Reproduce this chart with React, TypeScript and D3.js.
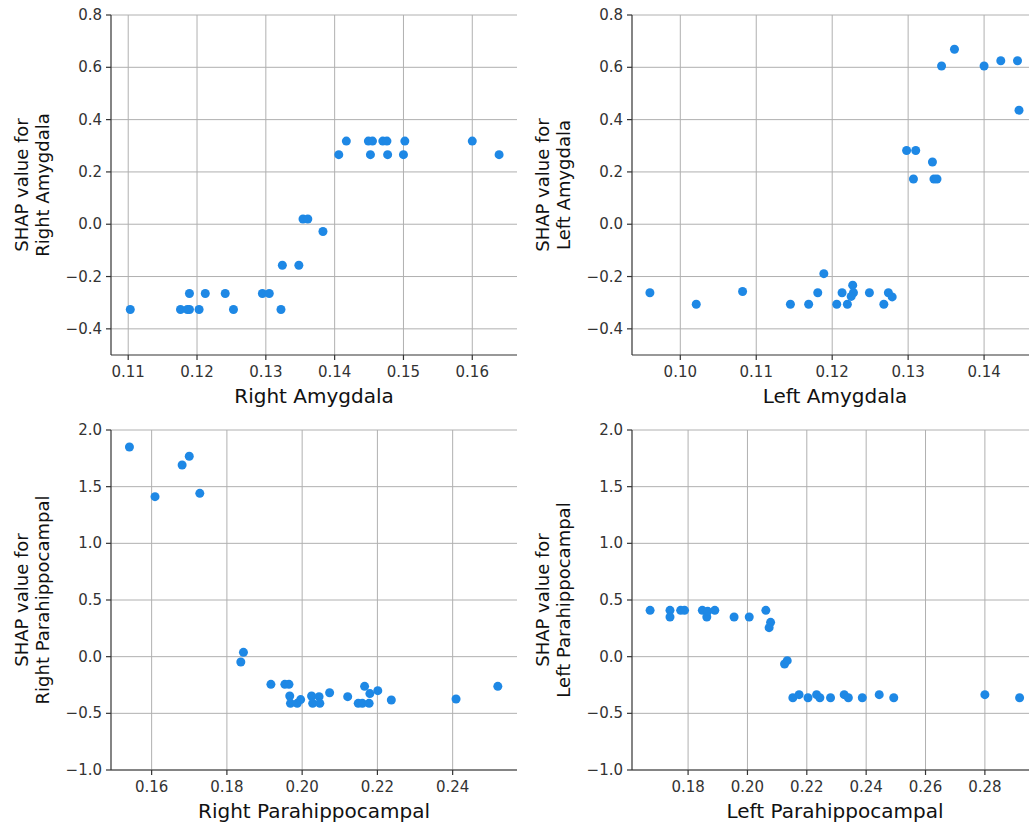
import React from "react";
import * as d3 from "d3";

// ---------- DATA ----------
const rightAmygdalaX = [0.1103, 0.1176, 0.1186, 0.1189, 0.1189, 0.1203, 0.1212, 0.1241, 0.1253, 0.1295, 0.1305, 0.1322, 0.1324, 0.1348, 0.1354, 0.1361, 0.1383, 0.1406, 0.1417, 0.1449, 0.1455, 0.1452, 0.147, 0.1476, 0.1477, 0.15, 0.1502, 0.16, 0.1639];
const rightAmygdalaShap = [-0.326, -0.326, -0.326, -0.326, -0.265, -0.326, -0.265, -0.265, -0.326, -0.265, -0.265, -0.326, -0.157, -0.157, 0.02, 0.02, -0.028, 0.266, 0.318, 0.318, 0.318, 0.266, 0.318, 0.318, 0.266, 0.266, 0.318, 0.318, 0.266];

const leftAmygdalaX = [0.096, 0.1021, 0.1082, 0.1145, 0.1169, 0.1181, 0.1189, 0.1206, 0.1213, 0.122, 0.1227, 0.1228, 0.1225, 0.1249, 0.1268, 0.1274, 0.1279, 0.1298, 0.131, 0.1307, 0.1332, 0.1334, 0.1338, 0.1344, 0.1361, 0.14, 0.1422, 0.1444, 0.1446];
const leftAmygdalaShap = [-0.262, -0.306, -0.257, -0.306, -0.306, -0.262, -0.189, -0.306, -0.262, -0.306, -0.233, -0.262, -0.276, -0.262, -0.306, -0.262, -0.278, 0.282, 0.282, 0.173, 0.238, 0.173, 0.173, 0.605, 0.669, 0.605, 0.625, 0.625, 0.436];

const rightParaX = [0.1541, 0.1609, 0.1681, 0.17, 0.1728, 0.1837, 0.1844, 0.1917, 0.1954, 0.1965, 0.1967, 0.1969, 0.1987, 0.1996, 0.2025, 0.2028, 0.2045, 0.2047, 0.2073, 0.2121, 0.2149, 0.216, 0.2166, 0.2178, 0.218, 0.2201, 0.2237, 0.2409, 0.252];
const rightParaShap = [1.85, 1.412, 1.691, 1.768, 1.441, -0.047, 0.038, -0.244, -0.244, -0.244, -0.347, -0.412, -0.412, -0.379, -0.347, -0.412, -0.353, -0.412, -0.318, -0.353, -0.412, -0.412, -0.262, -0.412, -0.326, -0.3, -0.382, -0.374, -0.262];

const leftParaX = [0.1672, 0.1739, 0.1739, 0.1775, 0.1788, 0.1848, 0.1863, 0.1866, 0.189, 0.1955, 0.2006, 0.2062, 0.2078, 0.2073, 0.2125, 0.2134, 0.2153, 0.2174, 0.2204, 0.2233, 0.2244, 0.228, 0.2326, 0.234, 0.2387, 0.2444, 0.2493, 0.28, 0.2917];
const leftParaShap = [0.409, 0.409, 0.35, 0.409, 0.409, 0.409, 0.35, 0.4, 0.409, 0.35, 0.35, 0.409, 0.303, 0.256, -0.065, -0.035, -0.362, -0.335, -0.362, -0.335, -0.362, -0.362, -0.335, -0.362, -0.362, -0.335, -0.362, -0.335, -0.362];

const xTicksRightAmygdala = [0.11, 0.12, 0.13, 0.14, 0.15, 0.16];
const xTicksLeftAmygdala = [0.1, 0.11, 0.12, 0.13, 0.14];
const xTicksRightPara = [0.16, 0.18, 0.2, 0.22, 0.24];
const xTicksLeftPara = [0.18, 0.2, 0.22, 0.24, 0.26, 0.28];
const yTicksAmygdala = [-0.4, -0.2, 0, 0.2, 0.4, 0.6, 0.8];
const yTicksPara = [-1.0, -0.5, 0, 0.5, 1.0, 1.5, 2.0];

const featureNames = ["Right Amygdala", "Left Amygdala", "Right Parahippocampal", "Left Parahippocampal"];

// ---------- LAYOUT ----------
const W = 1029;
const H = 825;
const COLS = [[111, 517], [632, 1038]];
const ROWS = [[355, 15], [770, 430]];

const panels = [
  { name: featureNames[0], xs: rightAmygdalaX, ys: rightAmygdalaShap, xDom: [0.1075, 0.1665], yDom: [-0.5, 0.8], xTicks: xTicksRightAmygdala, yTicks: yTicksAmygdala, col: 0, row: 0, xDec: 2, yDec: 1 },
  { name: featureNames[1], xs: leftAmygdalaX, ys: leftAmygdalaShap, xDom: [0.09364, 0.1471], yDom: [-0.5, 0.8], xTicks: xTicksLeftAmygdala, yTicks: yTicksAmygdala, col: 1, row: 0, xDec: 2, yDec: 1 },
  { name: featureNames[2], xs: rightParaX, ys: rightParaShap, xDom: [0.1492, 0.2571], yDom: [-1.0, 2.0], xTicks: xTicksRightPara, yTicks: yTicksPara, col: 0, row: 1, xDec: 2, yDec: 1 },
  { name: featureNames[3], xs: leftParaX, ys: leftParaShap, xDom: [0.1611, 0.2979], yDom: [-1.0, 2.0], xTicks: xTicksLeftPara, yTicks: yTicksPara, col: 1, row: 1, xDec: 2, yDec: 1 },
];

const DOT = "#1E88E5";
const GRID = "#b0b0b0";
const AXIS = "#333333";
const FONT = "'DejaVu Sans', sans-serif";

const fmt = (v: number, dec: number) => {
  const s = Math.abs(v).toFixed(dec);
  return (v < -1e-9 ? "\u2212" : "") + s;
};

function Panel({ p }: { p: (typeof panels)[number] }) {
  const [x0, x1] = COLS[p.col];
  const [y0, y1] = ROWS[p.row];
  const x = d3.scaleLinear().domain(p.xDom).range([x0, x1]);
  const y = d3.scaleLinear().domain(p.yDom).range([y0, y1]);
  const midY = (y0 + y1) / 2;
  const midX = (x0 + x1) / 2;
  return (
    <g>
      {/* grid */}
      {p.xTicks.map((t) => (
        <line key={"gx" + t} x1={x(t)} x2={x(t)} y1={y0} y2={y1} stroke={GRID} strokeWidth={1} />
      ))}
      {p.yTicks.map((t) => (
        <line key={"gy" + t} x1={x0} x2={x1} y1={y(t)} y2={y(t)} stroke={GRID} strokeWidth={1} />
      ))}
      {/* points */}
      {p.xs.map((v, i) => (
        <circle key={"pt" + i} cx={x(v)} cy={y(p.ys[i])} r={4.5} fill={DOT} />
      ))}
      {/* spines */}
      <line x1={x0} x2={x0} y1={y0} y2={y1} stroke={AXIS} strokeWidth={1.2} />
      <line x1={x0} x2={x1} y1={y0} y2={y0} stroke={AXIS} strokeWidth={1.2} />
      {/* ticks */}
      {p.xTicks.map((t) => (
        <g key={"tx" + t}>
          <line x1={x(t)} x2={x(t)} y1={y0} y2={y0 + 5} stroke={AXIS} strokeWidth={1.2} />
          <text x={x(t)} y={y0 + 22} textAnchor="middle" fontSize={15} fill={AXIS} fontFamily={FONT}>
            {fmt(t, p.xDec)}
          </text>
        </g>
      ))}
      {p.yTicks.map((t) => (
        <g key={"ty" + t}>
          <line x1={x0 - 5} x2={x0} y1={y(t)} y2={y(t)} stroke={AXIS} strokeWidth={1.2} />
          <text x={x0 - 9} y={y(t)} textAnchor="end" dominantBaseline="central" fontSize={15} fill={AXIS} fontFamily={FONT}>
            {fmt(t, p.yDec)}
          </text>
        </g>
      ))}
      {/* x label */}
      <text x={midX} y={y0 + 48} textAnchor="middle" fontSize={20} fill="#111" fontFamily={FONT}>
        {p.name}
      </text>
      {/* y label */}
      <g transform={`translate(${x0 - 90},${midY}) rotate(-90)`}>
        <text x={0} y={0} textAnchor="middle" dominantBaseline="central" fontSize={18} fill="#111" fontFamily={FONT}>
          SHAP value for
        </text>
      </g>
      <g transform={`translate(${x0 - 69},${midY}) rotate(-90)`}>
        <text x={0} y={0} textAnchor="middle" dominantBaseline="central" fontSize={18} fill="#111" fontFamily={FONT}>
          {p.name}
        </text>
      </g>
    </g>
  );
}

export default function App() {
  return (
    <svg
      width={W}
      height={H}
      viewBox={`0 0 ${W} ${H}`}
      style={{ position: "absolute", left: 0, top: 0, background: "#fff", overflow: "hidden" }}
    >
      <rect x={0} y={0} width={W} height={H} fill="#fff" />
      {panels.map((p, i) => (
        <Panel key={i} p={p} />
      ))}
    </svg>
  );
}
